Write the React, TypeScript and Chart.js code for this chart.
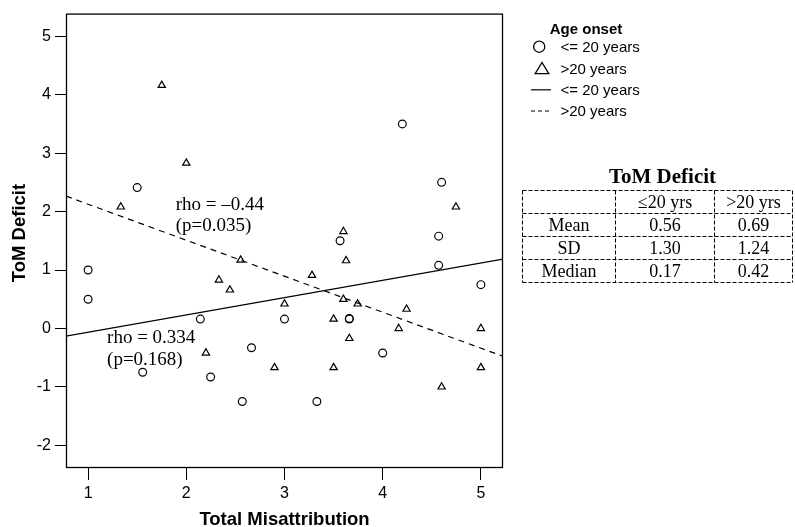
import React, { useEffect, useRef } from 'react';
import { Chart, registerables } from 'chart.js';

Chart.register(...registerables);

// ---- data ----
const xTicks = [1, 2, 3, 4, 5];
const yTicks = [-2, -1, 0, 1, 2, 3, 4, 5];
const xRange = [0.775, 5.225];
const yRange = [-2.388, 5.388];

// Age onset <= 20 years (circles)
const youngX = [1.0, 1.0, 1.5, 1.556, 2.143, 2.248, 2.57, 2.664, 3.0, 3.33, 3.566, 3.66, 3.66, 4.0, 4.2, 4.57, 4.57, 4.6, 5.0];
const youngY = [1.0, 0.5, 2.41, -0.75, 0.16, -0.83, -1.25, -0.33, 0.16, -1.25, 1.5, 0.16, 0.17, -0.42, 3.5, 1.58, 1.08, 2.5, 0.75];

// Age onset > 20 years (triangles)
const olderX = [1.333, 1.75, 2.0, 2.332, 2.444, 2.2, 2.553, 2.898, 3.0, 3.28, 3.5, 3.5, 3.6, 3.6, 3.627, 3.66, 3.745, 4.163, 4.243, 4.6, 4.746, 5.0, 5.0];
const olderY = [2.08, 4.16, 2.83, 0.83, 0.66, -0.42, 1.17, -0.67, 0.42, 0.91, 0.16, -0.67, 1.66, 0.5, 1.16, -0.17, 0.42, 0.0, 0.33, -1.0, 2.08, 0.0, -0.67];

// fitted lines: [intercept, slope]
const youngFit = [-0.361, 0.296];
const olderFit = [2.742, -0.616];

const youngNote = ['rho = 0.334', '(p=0.168)'];
const olderNote = ['rho = \u20130.44', '(p=0.035)'];

const xTitle = 'Total Misattribution';
const yTitle = 'ToM Deficit';

const legendTitle = 'Age onset';
const legendLabels = ['<= 20 years', '>20 years', '<= 20 years', '>20 years'];

const tableTitle = 'ToM Deficit';
const tableHeader = ['', '\u226420 yrs', '>20 yrs'];
const tableRows = ['Mean', 'SD', 'Median'];
const tableYoung = ['0.56', '1.30', '0.17'];
const tableOlder = ['0.69', '1.24', '0.42'];

const SANS = "'Liberation Sans', Arial, sans-serif";
const SERIF = "'Liberation Serif', 'Times New Roman', serif";

const toPoints = (xs: number[], ys: number[]) => xs.map((x, i) => ({ x, y: ys[i] }));
const fitLine = (fit: number[]) => xRange.map((x) => ({ x, y: fit[0] + fit[1] * x }));

const decorPlugin = {
  id: 'decor',
  afterDraw(chart: any) {
    const ctx = chart.ctx as CanvasRenderingContext2D;
    const { left, right, top, bottom } = chart.chartArea;
    const xs = chart.scales.x;
    const ys = chart.scales.y;
    ctx.save();
    ctx.strokeStyle = '#000';
    ctx.fillStyle = '#000';
    // box
    ctx.lineWidth = 1.3;
    ctx.strokeRect(left + 0.5, top + 0.5, right - left - 1, bottom - top - 1);

    // axis titles
    ctx.font = `bold 18.5px ${SANS}`;
    ctx.textAlign = 'center';
    ctx.textBaseline = 'alphabetic';
    ctx.fillText(xTitle, (left + right) / 2, 525);
    ctx.save();
    ctx.translate(25, 233);
    ctx.rotate(-Math.PI / 2);
    ctx.fillText(yTitle, 0, 0);
    ctx.restore();

    // annotations
    ctx.font = `19px ${SERIF}`;
    ctx.textAlign = 'left';
    ctx.fillText(olderNote[0], xs.getPixelForValue(1.892), ys.getPixelForValue(2.023));
    ctx.fillText(olderNote[1], xs.getPixelForValue(1.892), ys.getPixelForValue(1.669));
    ctx.fillText(youngNote[0], xs.getPixelForValue(1.193), ys.getPixelForValue(-0.256));
    ctx.fillText(youngNote[1], xs.getPixelForValue(1.193), ys.getPixelForValue(-0.627));

    // legend
    ctx.font = `bold 15px ${SANS}`;
    ctx.textAlign = 'center';
    ctx.fillText(legendTitle, 586, 34);
    ctx.font = `15px ${SANS}`;
    ctx.textAlign = 'left';
    const rowY = [46.7, 68.5, 89.8, 111];
    legendLabels.forEach((t, i) => ctx.fillText(t, 560.5, rowY[i] + 5.4));
    ctx.lineWidth = 1.3;
    ctx.beginPath();
    ctx.arc(539.2, rowY[0], 5.6, 0, Math.PI * 2);
    ctx.stroke();
    ctx.beginPath();
    ctx.moveTo(542, rowY[1] - 6);
    ctx.lineTo(548.8, rowY[1] + 5.2);
    ctx.lineTo(535.2, rowY[1] + 5.2);
    ctx.closePath();
    ctx.stroke();
    ctx.lineWidth = 1.2;
    ctx.beginPath();
    ctx.moveTo(531, rowY[2]);
    ctx.lineTo(551, rowY[2]);
    ctx.stroke();
    ctx.setLineDash([4, 3]);
    ctx.beginPath();
    ctx.moveTo(531, rowY[3]);
    ctx.lineTo(552, rowY[3]);
    ctx.stroke();
    ctx.setLineDash([]);

    // table
    const colX = [522.5, 615.5, 714.5, 792.5];
    const rowLines = [190.5, 213.5, 236.5, 259.5, 282.5];
    ctx.font = `bold 21px ${SERIF}`;
    ctx.textAlign = 'center';
    ctx.fillText(tableTitle, 662.5, 182.5);
    ctx.strokeStyle = '#000';
    ctx.lineWidth = 1;
    ctx.setLineDash([4, 2]);
    rowLines.forEach((y) => {
      ctx.beginPath();
      ctx.moveTo(colX[0], y);
      ctx.lineTo(colX[3], y);
      ctx.stroke();
    });
    colX.forEach((x) => {
      ctx.beginPath();
      ctx.moveTo(x, rowLines[0]);
      ctx.lineTo(x, rowLines[4]);
      ctx.stroke();
    });
    ctx.setLineDash([]);
    ctx.font = `18px ${SERIF}`;
    const cx = [(colX[0] + colX[1]) / 2, (colX[1] + colX[2]) / 2, (colX[2] + colX[3]) / 2];
    const cellBase = (r: number) => (rowLines[r] + rowLines[r + 1]) / 2 + 6;
    tableHeader.forEach((t, c) => ctx.fillText(t, cx[c], cellBase(0)));
    tableRows.forEach((t, r) => {
      ctx.fillText(t, cx[0], cellBase(r + 1));
      ctx.fillText(tableYoung[r], cx[1], cellBase(r + 1));
      ctx.fillText(tableOlder[r], cx[2], cellBase(r + 1));
    });
    ctx.restore();
  },
};

export default function App() {
  const ref = useRef<HTMLCanvasElement | null>(null);
  useEffect(() => {
    if (!ref.current) return;
    const chart = new Chart(ref.current, {
      type: 'scatter',
      data: {
        datasets: [
          {
            label: '<= 20 years',
            data: toPoints(youngX, youngY),
            pointStyle: 'circle',
            pointRadius: 3.9,
            borderColor: '#000',
            backgroundColor: 'rgba(0,0,0,0)',
            borderWidth: 1.2,
          },
          {
            label: '>20 years',
            data: toPoints(olderX, olderY),
            pointStyle: 'triangle',
            pointRadius: 4.2,
            borderColor: '#000',
            backgroundColor: 'rgba(0,0,0,0)',
            borderWidth: 1.2,
          },
          {
            label: 'fit <= 20',
            data: fitLine(youngFit),
            showLine: true,
            pointRadius: 0,
            borderColor: '#000',
            borderWidth: 1.2,
          },
          {
            label: 'fit > 20',
            data: fitLine(olderFit),
            showLine: true,
            pointRadius: 0,
            borderColor: '#000',
            borderWidth: 1.2,
            borderDash: [6, 5],
          },
        ],
      } as any,
      options: {
        animation: false,
        responsive: false,
        devicePixelRatio: 1,
        events: [],
        layout: { padding: { top: 13, left: 0, right: 292, bottom: 0 } },
        plugins: { legend: { display: false }, tooltip: { enabled: false } },
        scales: {
          x: {
            type: 'linear',
            min: xRange[0],
            max: xRange[1],
            afterBuildTicks: (s: any) => {
              s.ticks = xTicks.map((v) => ({ value: v }));
            },
            afterFit: (s: any) => {
              s.height = 59;
            },
            grid: { display: true, drawOnChartArea: false, drawTicks: true, tickLength: 12, color: '#000', lineWidth: 1 },
            border: { display: false },
            ticks: { color: '#000', font: { family: SANS, size: 16 }, padding: 4, maxRotation: 0 },
          },
          y: {
            type: 'linear',
            min: yRange[0],
            max: yRange[1],
            afterBuildTicks: (s: any) => {
              s.ticks = yTicks.map((v) => ({ value: v }));
            },
            afterFit: (s: any) => {
              s.width = 66;
            },
            grid: { display: true, drawOnChartArea: false, drawTicks: true, tickLength: 11, color: '#000', lineWidth: 1 },
            border: { display: false },
            ticks: { color: '#000', font: { family: SANS, size: 16 }, padding: 4 },
          },
        },
      } as any,
      plugins: [decorPlugin],
    });
    return () => chart.destroy();
  }, []);
  return (
    <div style={{ position: 'absolute', left: 0, top: 0, width: 795, height: 527, background: '#fff' }}>
      <canvas ref={ref} width={795} height={527} style={{ display: 'block' }} />
    </div>
  );
}
